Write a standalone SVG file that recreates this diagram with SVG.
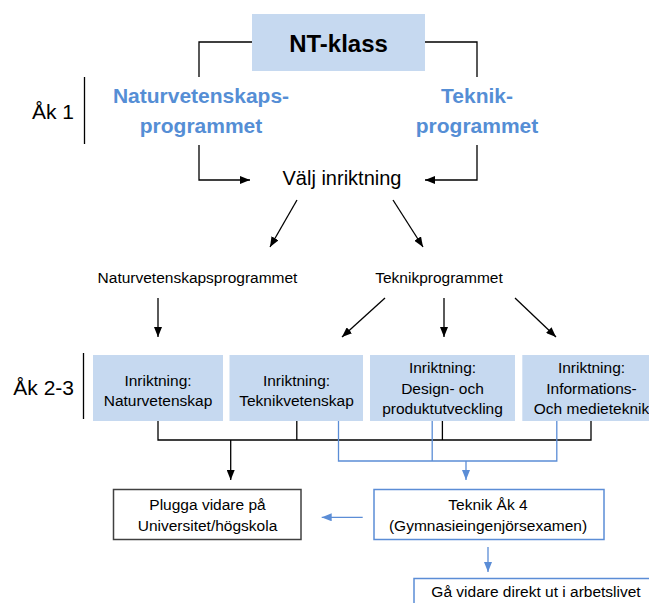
<svg xmlns="http://www.w3.org/2000/svg" width="649" height="603" viewBox="0 0 649 603">
<defs>
<style>
text{font-family:"Liberation Sans",Arial,sans-serif;fill:#000;text-anchor:middle}
.t{font-size:15.5px}
.big{font-size:24px;font-weight:bold}
.prog{font-size:21px;font-weight:bold;fill:#558ED5}
.mid{font-size:20px}
.ak{font-size:21px;text-anchor:end}
.fill{fill:#C6D9F0;stroke:none}
.bk{fill:none;stroke:#000;stroke-width:1.3}
.bl{fill:none;stroke:#5B8DD6;stroke-width:1.3}
.box{fill:#fff;stroke:#404040;stroke-width:1.5}
.bbox{fill:#fff;stroke:#5B8DD6;stroke-width:1.5}
</style>
<marker id="ak" viewBox="0 0 10 8" refX="10" refY="4" markerWidth="10" markerHeight="8" orient="auto" markerUnits="userSpaceOnUse"><path d="M0,0 L10,4 L0,8 z" fill="#000"/></marker>
<marker id="ab" viewBox="0 0 10 8" refX="10" refY="4" markerWidth="10" markerHeight="8" orient="auto" markerUnits="userSpaceOnUse"><path d="M0,0 L10,4 L0,8 z" fill="#5B8DD6"/></marker>
</defs>

<g id="connectors">
<path class="bk" d="M252,42 H199 V77 M425,42 H477 V77"/>
<path class="bk" d="M199,145 V180 H250" marker-end="url(#ak)"/>
<path class="bk" d="M477,145 V180 H425" marker-end="url(#ak)"/>
<path class="bk" d="M297,200 L270,247" marker-end="url(#ak)"/>
<path class="bk" d="M393,200 L423,247" marker-end="url(#ak)"/>
<path class="bk" d="M158,298 V337" marker-end="url(#ak)"/>
<path class="bk" d="M385,298 L342,337" marker-end="url(#ak)"/>
<path class="bk" d="M444,298 V337" marker-end="url(#ak)"/>
<path class="bk" d="M515,298 L556,337" marker-end="url(#ak)"/>
<path class="bk" d="M158,421 V440 H591 V421 M296.8,421 V440 M442.4,421 V440"/>
<path class="bk" d="M230.7,440 V480" marker-end="url(#ak)"/>
<path class="bl" d="M338.5,421 V461 H556.8 V421 M432.2,421 V461"/>
<path class="bl" d="M466,461 V480" marker-end="url(#ab)"/>
<path class="bl" d="M362.7,517.3 H321.7" marker-end="url(#ab)"/>
<path class="bl" d="M488,547 V572" marker-end="url(#ab)"/>
<path class="bk" d="M84.5,77 V144 M83.5,353 V419"/>
</g>

<g id="ak1"><text class="ak" x="74" y="119">Åk 1</text></g>
<g id="ak23"><text class="ak" x="74" y="395">Åk 2-3</text></g>

<g id="ntklass">
<rect class="fill" x="252" y="14" width="173" height="57"/>
<text class="big" x="338.5" y="52">NT-klass</text>
</g>

<g id="natprog">
<text class="prog" x="201" y="103">Naturvetenskaps-</text>
<text class="prog" x="201" y="133">programmet</text>
</g>

<g id="tekprog">
<text class="prog" x="477" y="103">Teknik-</text>
<text class="prog" x="477" y="133">programmet</text>
</g>

<g id="valj"><text class="mid" x="342" y="185">Välj inriktning</text></g>

<g id="natprog2"><text class="t" x="197.5" y="283">Naturvetenskapsprogrammet</text></g>
<g id="tekprog2"><text class="t" x="439" y="283">Teknikprogrammet</text></g>

<g id="inr-nat">
<rect class="fill" x="93" y="355" width="130" height="66"/>
<text class="t" x="158" y="386">Inriktning:</text>
<text class="t" x="158" y="406">Naturvetenskap</text>
</g>
<g id="inr-tek">
<rect class="fill" x="229.5" y="355" width="133.5" height="66"/>
<text class="t" x="296.5" y="386">Inriktning:</text>
<text class="t" x="296.5" y="406">Teknikvetenskap</text>
</g>
<g id="inr-design">
<rect class="fill" x="370" y="355" width="145" height="66"/>
<text class="t" x="442.5" y="373">Inriktning:</text>
<text class="t" x="442.5" y="393.5">Design- och</text>
<text class="t" x="442.5" y="414">produktutveckling</text>
</g>
<g id="inr-info">
<rect class="fill" x="522.3" y="355" width="140" height="66"/>
<text class="t" x="591.5" y="373">Inriktning:</text>
<text class="t" x="591.5" y="393.5">Informations-</text>
<text class="t" x="591.5" y="414">Och medieteknik</text>
</g>

<g id="plugga">
<rect class="box" x="113.5" y="489.5" width="187.5" height="50"/>
<text class="t" x="207.5" y="510">Plugga vidare på</text>
<text class="t" x="207.5" y="531">Universitet/högskola</text>
</g>

<g id="teknik4">
<rect class="bbox" x="374" y="489.5" width="230" height="50"/>
<text class="t" x="488" y="510">Teknik Åk 4</text>
<text class="t" x="488" y="531">(Gymnasieingenjörsexamen)</text>
</g>

<g id="arbetsliv">
<rect class="bbox" x="414" y="578.5" width="250" height="40"/>
<text class="t" x="536" y="597">Gå vidare direkt ut i arbetslivet</text>
</g>
</svg>
